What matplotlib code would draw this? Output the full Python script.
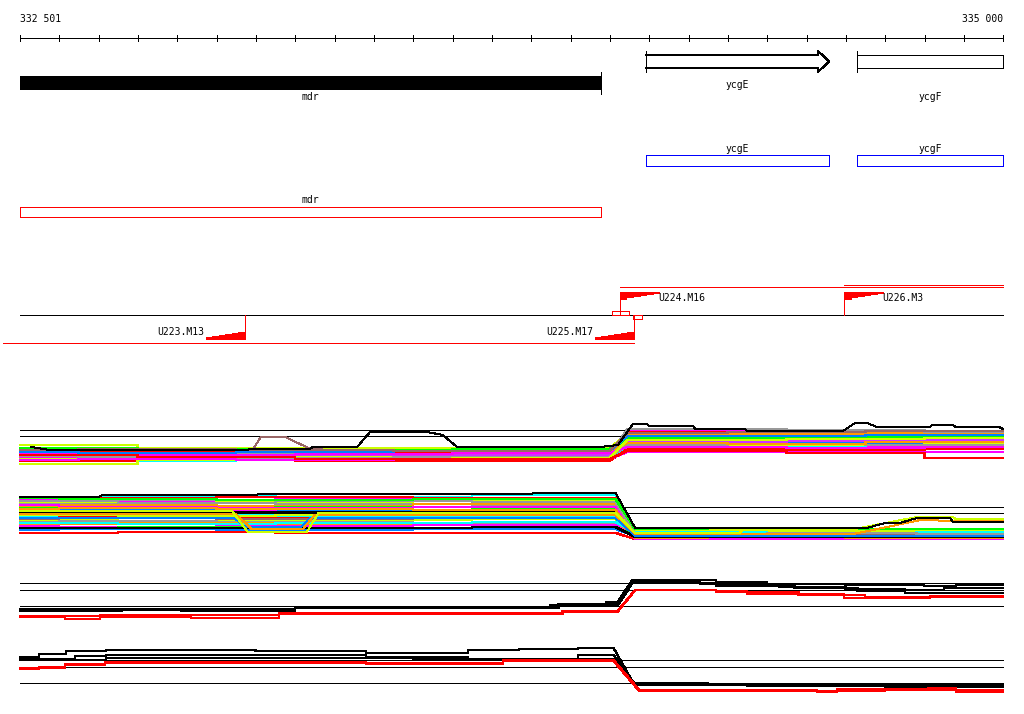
import matplotlib
matplotlib.use('Agg')
import matplotlib.pyplot as plt
from matplotlib.patches import Rectangle, Polygon

W, H = 1024, 714
VIEW_START, VIEW_END = 332501, 335000
X0, X1 = 332450.16, 335053.39  # view with margins
BP = 2.5422  # bp per pixel, used for small glyph offsets

# ruler
TICKS = list(range(332501, 335000, 100)) + [335000]
RULER_LABELS = ['332 501', '335 000']

# genes
GENE_NAMES = ['mdr', 'ycgE', 'ycgF']
GENE_START = [332501, 334092, 334629]
GENE_END = [333978, 334558, 335000]
BLUE_NAMES = ['ycgE', 'ycgF']
BLUE_START = [334092, 334629]
BLUE_END = [334558, 335000]
RED_NAMES = ['mdr']
RED_START = [332501]
RED_END = [333978]

# transcription units / regions
REG_NAMES = ['U223.M13', 'U225.M17', 'U224.M16', 'U226.M3']
REG_POS = [333073, 334062, 334026, 334596]
REG_STRAND = [-1, -1, 1, 1]
REG_SPAN_START = [332458, 332458, 334026, 334596]
REG_SPAN_END = [333073, 334062, 335000, 335000]
REG_SPAN_ROW = [343, 343, 287, 285]
SMALL_BOX_START = [334006, 334059]
SMALL_BOX_END = [334049, 334082]

# expression track 1 (many conditions)
T1_REFS = [45, 39]
T1_COLORS = ['#ccff00', '#ff00ff', '#00ffff', '#ff0000', '#00ff00', '#ff9900', '#999999',
             '#0080ff', '#cc33ff', '#ff00ff', '#ccff00', '#00ffff', '#ff0000', '#999999',
             '#00ff00', '#ff9900', '#ff00ff', '#0080ff', '#ccff00', '#ff00ff', '#ff0000', '#996666']
T1_LEFT = [[30, 27, 27, 27], [24, 23, 24, 22], [22, 21, 22, 21], [23, 24, 22, 23],
           [26, 25, 24, 25], [20, 19, 20, 21], [21, 22, 20, 19], [18, 19, 18, 17],
           [19, 20, 19, 20], [17, 16, 17, 16], [16, 17, 18, 18], [15, 14, 15, 15],
           [14, 15, 14, 14], [19, 18, 17, 18], [27, 26, 25, 26], [24, 25, 23, 24],
           [21, 20, 21, 22], [23, 22, 23, 24], [11, 15, 16, 17], [15, 16, 15, 16],
           [20, 18, 16, 16], [25, 26, 25, 24]]
T1_RIGHT = [[41, 40, 39], [44, 45, 44], [38, 37, 38], [43, 42, 41], [36, 35, 34],
            [40, 41, 42], [46, 45, 43], [34, 33, 32], [33, 34, 35], [31, 30, 29],
            [29, 30, 31], [27, 28, 27], [26, 25, 26], [30, 31, 30], [37, 38, 39],
            [32, 31, 33], [28, 27, 28], [39, 39, 40], [35, 36, 37], [23, 23, 23],
            [24, 22, 17], [42, 43, 44]]
T1_TOP_X = [332530, 332577, 333078, 333085, 333238, 333245, 333358, 333391, 333536, 333576,
            333612, 333975, 334021, 334059, 334095, 334100, 334212, 334218, 334344, 334350,
            334593, 334624, 334654, 334680, 334814, 334820, 334873, 334880, 334990, 335000]
T1_TOP_V = [28, 25, 25, 26, 26, 28, 28, 43, 43, 40, 28, 28, 30, 51, 51, 49, 49, 46, 46, 44,
            44, 52, 52, 48, 48, 50, 50, 48, 48, 46]
T1_SPIKE_X = [333094, 333113, 333175, 333240, 333300]
T1_SPIKE_V = [26, 38, 38, 26, 25]

# expression track 2 (many conditions)
T2_REFS = [38, 32]
T2_COLORS = ['#00ffff', '#ff0000', '#ff00ff', '#ccff00', '#999999', '#ff9900', '#00ff00',
             '#0080ff', '#ff00ff', 'black', '#00ffff', '#ff0000', '#ccff00', '#999999',
             '#ff9900', '#ff00ff', '#00ff00', '#0080ff', '#ff0000', '#ff00ff', '#ccff00',
             '#996666', '#00ffff', '#ff9900', '#999999', '#00ff00', 'black']
T2_LEFT = [[48, 49, 48, 50], [46, 47, 48, 47], [45, 44, 46, 45], [43, 42, 43, 44],
           [41, 42, 41, 40], [39, 40, 39, 41], [37, 36, 38, 37], [35, 36, 35, 34],
           [33, 34, 33, 33], [33, 33, 33, 33], [29, 30, 29, 28], [27, 28, 27, 26],
           [25, 24, 25, 26], [23, 24, 23, 22], [21, 22, 21, 20], [19, 18, 19, 20],
           [17, 18, 17, 16], [15, 16, 15, 16], [12, 13, 12, 12], [40, 38, 37, 38],
           [30, 29, 30, 31], [26, 27, 26, 27], [22, 21, 22, 23], [36, 37, 36, 35],
           [44, 45, 44, 43], [47, 46, 45, 46], [17, 17, 17, 18]]
T2_RIGHT = [[16, 15, 14], [14, 13, 12], [12, 11, 12], [17, 16, 16], [10, 11, 10],
            [9, 10, 9], [13, 14, 13], [8, 9, 8], [11, 10, 11], [7, 7, 8], [10, 9, 10],
            [9, 8, 7], [12, 13, 12], [8, 7, 8], [14, 13, 14], [7, 6, 7], [11, 12, 11],
            [9, 10, 9], [6, 7, 6], [6, 6, 6], [15, 14, 15], [10, 10, 11], [13, 12, 13],
            [7, 8, 7], [11, 12, 11], [16, 17, 16], [8, 8, 8]]
T2_TOP_X = [332501, 332700, 332710, 333100, 333110, 333800, 333810, 334015, 334065,
            334654, 334700, 334738, 334781, 334865, 334873, 335000]
T2_TOP_V = [48, 48, 50, 50, 51, 51, 52, 52, 17, 17, 22, 22, 27, 27, 23, 23]
T2_YEL_X = [332501, 333040, 333080, 333230, 333260, 334015, 334065, 334330, 334340,
            334610, 334781, 334873, 334880, 335000]
T2_YEL_V = [34, 34, 13, 13, 32, 32, 12, 12, 15, 15, 28, 28, 26, 26]
T2_ORA_X = [332501, 333050, 333090, 333220, 333250, 334015, 334065, 334620, 334790,
            334880, 335000]
T2_ORA_V = [31, 31, 16, 16, 30, 30, 11, 11, 25, 24, 24]
T2_BLU_X = [332501, 333045, 333075, 333215, 333240, 334015, 334065, 335000]
T2_BLU_V = [27, 27, 18, 18, 27, 27, 9, 9]

# expression track 3 (averaged profiles)
T3_REFS = [47, 40, 24]
T3_COLORS = ['black', 'black', 'black', 'red', 'red']
T3_LEFT_X = [[332501, 333200, 333850, 333990], [332501, 332910, 333200, 333870],
             [332501, 332760, 333200, 333870],
             [332501, 332615, 332705, 332935, 333160, 333880], [332501, 332705, 333160, 333880]]
T3_LEFT_V = [[21, 23, 25, 28], [20, 19, 22, 26], [19, 21, 23, 24],
             [13, 11, 13, 12, 16, 18], [14, 15, 17, 19]]
T3_RIGHT_X = [[334058, 334270, 334400, 334600, 334800, 334880],
              [334058, 334230, 334430, 334600, 334750, 334850],
              [334058, 334270, 334470, 334630, 334750],
              [334065, 334270, 334350, 334596, 334815],
              [334065, 334270, 334480, 334650, 334815]]
T3_RIGHT_V = [[50, 48, 46, 45, 44, 45], [48, 46, 43, 41, 40, 42], [47, 44, 42, 39, 37],
              [40, 39, 36, 32, 34], [40, 38, 35, 33, 33]]

# expression track 4 (averaged profiles)
T4_REFS = [40, 33, 17]
T4_COLORS = ['black', 'black', 'black', 'red', 'red']
T4_LEFT_X = [[332501, 332550, 332618, 332720, 333100, 333380, 333640, 333770, 333920],
             [332501, 332640, 332720, 333380, 333640, 333920],
             [332501, 332720, 333500],
             [332501, 332549, 332615, 332717, 333381, 333729],
             [332501, 332615, 332717, 333729]]
T4_LEFT_V = [[43, 46, 49, 50, 49, 47, 50, 51, 52], [41, 44, 45, 43, 41, 45],
             [40, 42, 41], [31, 33, 36, 38, 36, 40], [32, 35, 37, 39]]
T4_RIGHT_X = [[334060, 334250, 334500, 334750], [334065, 334350, 334700],
              [334065, 334400, 334850],
              [334075, 334527, 334578, 334811, 334880], [334075, 334400, 334700]]
T4_RIGHT_V = [[17, 16, 15, 15], [15, 14, 13], [16, 14, 14], [10, 8, 11, 12, 8], [9, 9, 10]]

FONT = dict(family='DejaVu Sans Mono', fontsize=7)
PX = 0.72  # one pixel in points


def stair(starts, vals, end):
    xs, ys = [], []
    for i, v in enumerate(vals):
        xs += [starts[i], starts[i + 1] if i + 1 < len(starts) else end]
        ys += [v, v]
    return xs, ys


def profile(lx, lv, lend, rx, rv):
    xa, ya = stair(lx, lv, lend)
    xb, yb = stair(rx, rv, VIEW_END)
    return xa + xb, ya + yb


def track_axes(bottom_px, height_px=60):
    a = fig.add_axes([0, 1 - bottom_px / H, 1, height_px / H])
    a.set_xlim(X0, X1)
    a.set_ylim(0, height_px)
    a.axis('off')
    return a


def draw_refs(a, refs):
    for r in refs:
        a.plot([VIEW_START, VIEW_END], [r, r], color='black', lw=PX,
               antialiased=False, zorder=1)


def flag(a, pos, strand, y_edge, width=100, height=7, n=6):
    # stepped wedge, tall at the anchor
    sgn = 1 if strand > 0 else -1
    pts = [(pos, y_edge), (pos + sgn * width, y_edge)]
    for i in range(n - 1, -1, -1):
        d = sgn * height * (n - i) / n
        pts += [(pos + sgn * width * (i + 1) / n, y_edge + d),
                (pos + sgn * width * i / n, y_edge + d)]
    a.add_patch(Polygon(pts, closed=True, facecolor='red', edgecolor='red', lw=0.5,
                        antialiased=False))


fig = plt.figure(figsize=(W / 100, H / 100), dpi=100)
ax = fig.add_axes([0, 0, 1, 1])
ax.set_xlim(X0, X1)
ax.set_ylim(H, 0)
ax.axis('off')

# ruler
ax.plot([VIEW_START, VIEW_END], [38, 38], color='black', lw=PX, antialiased=False)
for t in TICKS:
    ax.plot([t, t], [35, 41], color='black', lw=PX, antialiased=False)
ax.text(VIEW_START, 19, RULER_LABELS[0], ha='left', va='center', **FONT)
ax.text(VIEW_END, 19, RULER_LABELS[1], ha='right', va='center', **FONT)

# gene row: mdr filled, ycgE arrow, ycgF open box
s, e = GENE_START[0], GENE_END[0]
ax.add_patch(Rectangle((s, 76), e - s, 14, facecolor='black', edgecolor='black', lw=0,
                       antialiased=False))
ax.plot([e, e], [72, 94], color='black', lw=PX, antialiased=False)
ax.text((s + e) / 2, 97, GENE_NAMES[0], ha='center', va='center', **FONT)

s, e = GENE_START[1], GENE_END[1]
head = 11 * BP
ax.plot([s, e - head, e - head, e, e - head, e - head, s],
        [55, 55, 51, 61.5, 72, 68, 68], color='black', lw=PX, antialiased=False)
ax.plot([s, s], [51, 72], color='black', lw=PX, antialiased=False)
ax.text((s + e) / 2, 85, GENE_NAMES[1], ha='center', va='center', **FONT)

s, e = GENE_START[2], GENE_END[2]
ax.plot([s, e, e, s], [55, 55, 68, 68], color='black', lw=PX, antialiased=False)
ax.plot([s, s], [51, 72], color='black', lw=PX, antialiased=False)
ax.text((s + e) / 2, 97, GENE_NAMES[2], ha='center', va='center', **FONT)

# blue and red annotation rows
for name, s, e in zip(BLUE_NAMES, BLUE_START, BLUE_END):
    ax.plot([s, e, e, s, s], [155, 155, 166, 166, 155], color='#0000ff', lw=PX,
            antialiased=False)
    ax.text((s + e) / 2, 149, name, ha='center', va='center', **FONT)
for name, s, e in zip(RED_NAMES, RED_START, RED_END):
    ax.plot([s, e, e, s, s], [207, 207, 217, 217, 207], color='#ff0000', lw=PX,
            antialiased=False)
    ax.text((s + e) / 2, 200, name, ha='center', va='center', **FONT)

# transcription units
ax.plot([VIEW_START, VIEW_END], [315, 315], color='black', lw=PX, antialiased=False)
for s, e, row in zip(REG_SPAN_START, REG_SPAN_END, REG_SPAN_ROW):
    ax.plot([s, e], [row, row], color='red', lw=PX, antialiased=False)
for name, pos, strand in zip(REG_NAMES, REG_POS, REG_STRAND):
    if strand > 0:
        ax.plot([pos, pos], [291.5, 315], color='red', lw=PX, antialiased=False)
        flag(ax, pos, 1, 291.5)
        ax.text(pos + 38 * BP, 298, name, ha='left', va='center', **FONT)
    else:
        ax.plot([pos, pos], [315, 338.5], color='red', lw=PX, antialiased=False)
        flag(ax, pos, -1, 338.5)
        ax.text(pos - 41 * BP, 332, name, ha='right', va='center', **FONT)
for s, e, top in zip(SMALL_BOX_START, SMALL_BOX_END, [311, 315]):
    ax.plot([s, e, e, s, s], [top, top, top + 4, top + 4, top], color='red', lw=PX,
            antialiased=False)

# expression track 1
a1 = track_axes(475)
draw_refs(a1, T1_REFS)
knots_l = [[332501, 332800, 333200, 333600], [332501, 332650, 333050, 333450]]
knots_r = [[334045, 334450, 334800], [334045, 334300, 334650]]
for i, (c, lv, rv) in enumerate(zip(T1_COLORS, T1_LEFT, T1_RIGHT)):
    xs, ys = profile(knots_l[i % 2], lv, 334000, knots_r[i % 2], rv)
    a1.plot(xs, ys, color=c, lw=1.05, antialiased=False, zorder=2)
a1.plot(T1_SPIKE_X, T1_SPIKE_V, color='#996666', lw=PX, antialiased=False, zorder=3)
a1.plot(T1_TOP_X, T1_TOP_V, color='black', lw=PX, antialiased=False, zorder=3)

# expression track 2
a2 = track_axes(545)
draw_refs(a2, T2_REFS)
knots_l = [[332501, 332750, 333150, 333650], [332501, 332600, 333000, 333500]]
knots_r = [[334065, 334400, 334780], [334065, 334250, 334600]]
for i, (c, lv, rv) in enumerate(zip(T2_COLORS, T2_LEFT, T2_RIGHT)):
    xs, ys = profile(knots_l[i % 2], lv, 334015, knots_r[i % 2], rv)
    a2.plot(xs, ys, color=c, lw=1.1, antialiased=False, zorder=2)
a2.plot(T2_BLU_X, T2_BLU_V, color='#0080ff', lw=PX, antialiased=False, zorder=3)
a2.plot(T2_ORA_X, T2_ORA_V, color='#ff9900', lw=PX, antialiased=False, zorder=3)
a2.plot(T2_YEL_X, T2_YEL_V, color='#ccff00', lw=PX, antialiased=False, zorder=3)
a2.plot(T2_TOP_X, T2_TOP_V, color='black', lw=PX, antialiased=False, zorder=3)

# expression tracks 3 and 4
a3 = track_axes(630)
draw_refs(a3, T3_REFS)
for c, lx, lv, rx, rv in zip(T3_COLORS, T3_LEFT_X, T3_LEFT_V, T3_RIGHT_X, T3_RIGHT_V):
    xs, ys = profile(lx, lv, 334020, rx, rv)
    a3.plot(xs, ys, color=c, lw=0.95, antialiased=False, zorder=2)

a4 = track_axes(700)
draw_refs(a4, T4_REFS)
for c, lx, lv, rx, rv in zip(T4_COLORS, T4_LEFT_X, T4_LEFT_V, T4_RIGHT_X, T4_RIGHT_V):
    xs, ys = profile(lx, lv, 334010, rx, rv)
    a4.plot(xs, ys, color=c, lw=0.95, antialiased=False, zorder=2)

fig.savefig('out.png', dpi=100)
